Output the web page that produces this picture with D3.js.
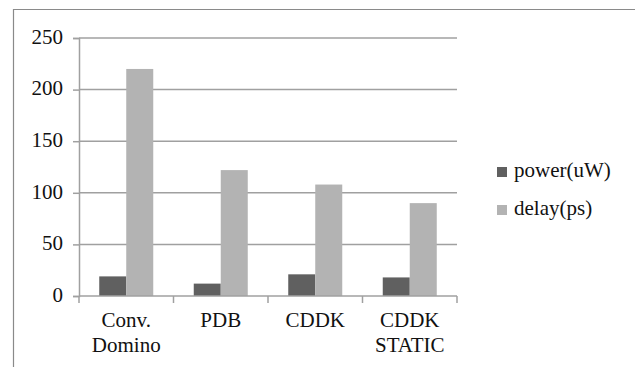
<!DOCTYPE html>
<html><head><meta charset="utf-8">
<script src="https://cdn.jsdelivr.net/npm/d3@7"></script>
<style>body{margin:0;background:#fff}
#wrap{position:relative;width:635px;height:367px;overflow:hidden}
svg{display:block;position:absolute;left:0;top:0}
.lbl{position:absolute;font-family:'Liberation Serif','Times New Roman',serif;font-size:21px;line-height:25px;color:#111;white-space:nowrap}
</style>
</head><body>
<div id="wrap"><svg id="c" width="635" height="367"></svg></div>
<script>
const categories = [["Conv.","Domino"],["PDB"],["CDDK"],["CDDK","STATIC"]];
const seriesNames = ["power(uW)","delay(ps)"];
const power = [19, 12, 21, 18];
const delay = [220, 122, 108, 90];
const yTicks = [0, 50, 100, 150, 200, 250];
const colors = ["#606060", "#b3b3b3"];

const wrap = d3.select("#wrap");
const svg = d3.select("#c");
const W = 635, H = 367;
const BASE = 19.6; // baseline offset inside a 25px line box
svg.append("path").attr("d", `M13.5,${H} V9.5 H${W}`).attr("fill","none").attr("stroke","#8a8a8a").attr("stroke-width",1.2);

const m = {l:79, r:457, t:38, b:296};
const x = d3.scaleBand().domain(d3.range(categories.length)).range([m.l, m.r]);
const y = d3.scaleLinear().domain([0,250]).range([m.b, m.t]);
const barW = x.bandwidth()/3.5;

const ya = svg.append("g").attr("transform",`translate(${m.l},0)`)
  .call(d3.axisLeft(y).tickValues(yTicks).tickSize(6).tickFormat(""));
ya.select(".domain").attr("stroke","#a0a0a0").attr("stroke-width",1.5);
ya.selectAll(".tick line").attr("stroke","#a0a0a0").attr("stroke-width",1.5);
svg.append("g").selectAll("line").data(yTicks.filter(d=>d>0)).join("line")
  .attr("x1",m.l).attr("x2",m.r).attr("y1",d=>y(d)).attr("y2",d=>y(d))
  .attr("stroke","#a0a0a0").attr("stroke-width",1.5);
wrap.selectAll("div.yl").data(yTicks).join("div").attr("class","lbl yl")
  .style("right", (W - (m.l - 16)) + "px")
  .style("top", d => (y(d) + 6.4 - BASE) + "px")
  .style("text-align","right")
  .text(d3.format("d"));

[power, delay].forEach((vals, si) => {
  svg.append("g").selectAll("rect").data(vals).join("rect")
    .attr("x",(d,i)=>x(i) + (x.bandwidth()-2*barW)/2 + si*barW)
    .attr("y",d=>y(d)).attr("width",barW).attr("height",d=>y(0)-y(d))
    .attr("fill",colors[si]);
});

const xa = svg.append("g").attr("transform",`translate(0,${m.b})`);
xa.append("line").attr("x1",m.l).attr("x2",m.r).attr("stroke","#a0a0a0").attr("stroke-width",1.5);
const edges = d3.range(categories.length+1).map(i => m.l + i*x.step());
xa.selectAll("line.t").data(edges).join("line").attr("class","t")
  .attr("x1",d=>d).attr("x2",d=>d).attr("y1",0).attr("y2",7).attr("stroke","#a0a0a0").attr("stroke-width",1.5);
wrap.selectAll("div.xl").data(categories).join("div").attr("class","lbl xl")
  .style("left", (d,i) => (x(i) + x.bandwidth()/2 - 60) + "px")
  .style("width","120px").style("text-align","center")
  .style("top", (m.b + 32 - BASE) + "px")
  .html(d => d.join("<br>"));

seriesNames.forEach((n,i)=>{
  const yy = 167 + i*38;
  svg.append("rect").attr("x",497).attr("y",yy).attr("width",10).attr("height",10).attr("fill",colors[i]);
  wrap.append("div").attr("class","lbl").style("left","514px").style("top",(yy + 11 - BASE)+"px").text(n);
});
</script>
</body></html>
